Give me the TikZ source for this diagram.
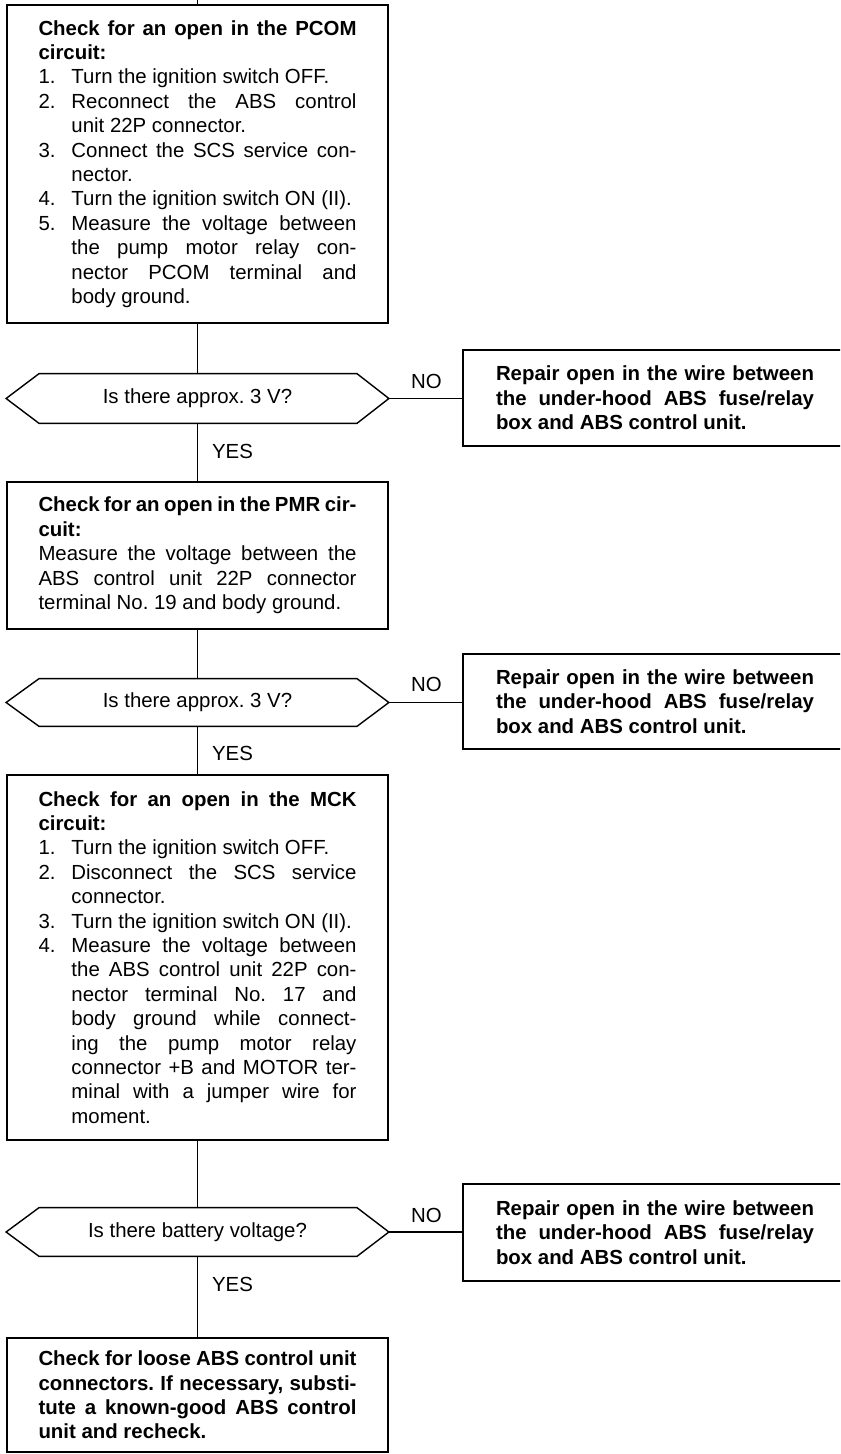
\documentclass[tikz,border=0pt]{standalone}
\usepackage{fontspec}
\setmainfont{Liberation Sans}
\tolerance=10000
\hbadness=10000
\hyphenpenalty=10000
\exhyphenpenalty=10000
\frenchspacing
\setlength\parindent{0pt}
\newcommand\fitem[1]{\par\noindent\hangindent=16.5pt\hangafter=1\makebox[16.5pt][l]{#1.}\ignorespaces}
\begin{document}
\begin{tikzpicture}[x=0.5pt,y=-0.5pt,
  every node/.style={font=\fontsize{10.2}{12.2}\selectfont\frenchspacing},
  ln/.style={line width=0.7pt},
  stepbox/.style={draw, ln, rectangle, text width=159pt, inner xsep=15.75pt, inner ysep=0pt, align=justify},
  nobox/.style={draw, ln, rectangle, text width=159pt, inner xsep=16.5pt, inner ysep=0pt, align=justify, font=\fontsize{10.2}{12.2}\selectfont\frenchspacing\bfseries},
  decision/.style={rectangle, minimum width=191pt, inner sep=0pt},
  lbl/.style={inner sep=0pt}
]
\clip (0,0) rectangle (840,1454);
\fill[white] (0,0) rectangle (840,1454);

\coordinate (top) at (197.5,0);

\node[stepbox, minimum height=159pt] (b1) at (197.5,164) {%
\textbf{Check for an open in the PCOM}\linebreak
\textbf{circuit:}
\fitem{1}Turn the ignition switch OFF.
\fitem{2}Reconnect the ABS control\linebreak unit 22P connector.
\fitem{3}Connect the SCS service con-\linebreak nector.
\fitem{4}Turn the ignition switch ON (II).
\fitem{5}Measure the voltage between\linebreak the pump motor relay con-\linebreak nector PCOM terminal and\linebreak body ground.\par};

\node[decision, minimum height=24.5pt] (d1) at (197.5,398.5) {Is there approx. 3 V?};
\node[nobox, minimum height=48pt] (n1) at (655,398) {Repair open in the wire between\linebreak the under-hood ABS fuse/relay\linebreak box and ABS control unit.};
\node[lbl] (no1) at (426.5,381) {NO};
\node[lbl] (yes1) at (232.5,451) {YES};

\node[stepbox, minimum height=73.5pt] (b2) at (197.5,555.5) {%
\textbf{Check for an open in the PMR cir-}\linebreak
\textbf{cuit:}\par
Measure the voltage between the\linebreak ABS control unit 22P connector\linebreak terminal No. 19 and body ground.};

\node[decision, minimum height=23.5pt] (d2) at (197.5,702.5) {Is there approx. 3 V?};
\node[nobox, minimum height=47.5pt] (n2) at (655,701.5) {Repair open in the wire between\linebreak the under-hood ABS fuse/relay\linebreak box and ABS control unit.};
\node[lbl] (no2) at (426.5,684) {NO};
\node[lbl] (yes2) at (232.5,753) {YES};

\node[stepbox, minimum height=182.5pt] (b3) at (197.5,957.5) {%
\textbf{Check for an open in the MCK}\linebreak
\textbf{circuit:}
\fitem{1}Turn the ignition switch OFF.
\fitem{2}Disconnect the SCS service\linebreak connector.
\fitem{3}Turn the ignition switch ON (II).
\fitem{4}Measure the voltage between\linebreak the ABS control unit 22P con-\linebreak nector terminal No. 17 and\linebreak body ground while connect-\linebreak ing the pump motor relay\linebreak connector +B and MOTOR ter-\linebreak minal with a jumper wire for\linebreak moment.\par};

\node[decision, minimum height=24pt] (d3) at (197.5,1232) {Is there battery voltage?};
\node[nobox, minimum height=48.5pt] (n3) at (655,1232.5) {Repair open in the wire between\linebreak the under-hood ABS fuse/relay\linebreak box and ABS control unit.};
\node[lbl] (no3) at (426.5,1215) {NO};
\node[lbl] (yes3) at (232.5,1284) {YES};

\node[stepbox, font=\fontsize{10.2}{12.2}\selectfont\frenchspacing\bfseries, minimum height=57pt] (b4) at (197.5,1395) {%
Check for loose ABS control unit\linebreak connectors. If necessary, substi-\linebreak tute a known-good ABS control\linebreak unit and recheck.};

% hexagonal decision outlines
\foreach \d in {d1,d2,d3}{
  \draw[ln] (\d.west) -- ([xshift=16.5pt]\d.north west) -- ([xshift=-16pt]\d.north east) -- (\d.east)
    -- ([xshift=-16pt]\d.south east) -- ([xshift=16.5pt]\d.south west) -- cycle;
}

% connectors
\draw[ln] (top) -- (b1.north);
\draw[ln] (b1.south) -- (d1.north);
\draw[ln] (d1.south) -- (b2.north);
\draw[ln] (d1.east) -- (d1.east -| n1.west);
\draw[ln] (b2.south) -- (d2.north);
\draw[ln] (d2.south) -- (b3.north);
\draw[ln] (d2.east) -- (d2.east -| n2.west);
\draw[ln] (b3.south) -- (d3.north);
\draw[ln] (d3.south) -- (b4.north);
\draw[ln] (d3.east) -- (d3.east -| n3.west);
\end{tikzpicture}
\end{document}
